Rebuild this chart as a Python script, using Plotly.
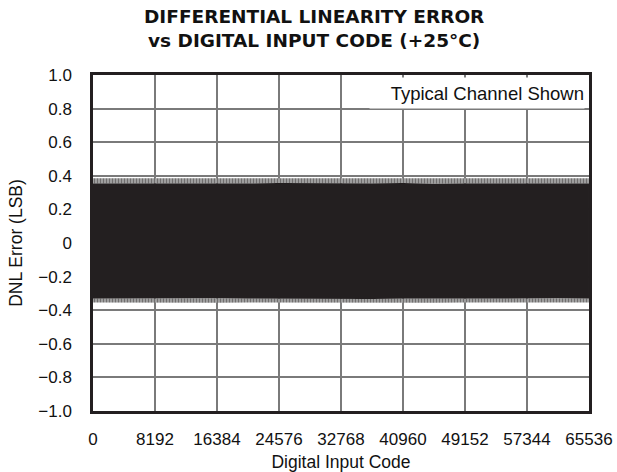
import plotly.graph_objects as go

# Digital input code sample points along the DNL envelope
codes = [0, 4096, 8192, 12288, 16384, 20480, 24576, 28672, 32768,
         36864, 40960, 45056, 49152, 53248, 57344, 61440, 65535]
# Envelope of the DNL error band (LSB)
upper_peak = [0.385, 0.385, 0.386, 0.384, 0.386, 0.385, 0.386, 0.384, 0.385,
              0.386, 0.385, 0.384, 0.385, 0.386, 0.385, 0.384, 0.385]
upper_solid = [0.356, 0.355, 0.357, 0.354, 0.356, 0.355, 0.357, 0.355, 0.356,
               0.355, 0.357, 0.354, 0.356, 0.355, 0.356, 0.355, 0.356]
lower_solid = [-0.332, -0.331, -0.333, -0.332, -0.331, -0.332, -0.333, -0.331, -0.332,
               -0.333, -0.332, -0.331, -0.332, -0.333, -0.332, -0.331, -0.332]
lower_peak = [-0.354, -0.355, -0.354, -0.356, -0.355, -0.354, -0.355, -0.356, -0.355,
              -0.354, -0.355, -0.356, -0.354, -0.355, -0.356, -0.355, -0.354]

x_ticks = [0, 8192, 16384, 24576, 32768, 40960, 49152, 57344, 65536]
x_ticktext = ["0", "8192", "16384", "24576", "32768", "40960", "49152", "57344", "65536"]
y_ticks = [1.0, 0.8, 0.6, 0.4, 0.2, 0.0, -0.2, -0.4, -0.6, -0.8, -1.0]
y_ticktext = ["1.0", "0.8", "0.6", "0.4", "0.2", "0", "\u22120.2", "\u22120.4", "\u22120.6", "\u22120.8", "\u22121.0"]
title_lines = ["DIFFERENTIAL LINEARITY ERROR", "vs DIGITAL INPUT CODE (+25°C)"]

INK = "#231f20"
FONT = "Liberation Sans, Arial, Helvetica, sans-serif"

fig = go.Figure()
nol = dict(width=0)
# solid core band
fig.add_trace(go.Scatter(x=codes, y=lower_solid, mode="lines", line=nol, hoverinfo="skip"))
fig.add_trace(go.Scatter(x=codes, y=upper_solid, mode="lines", line=nol, fill="tonexty",
                         fillcolor=INK, hoverinfo="skip"))
# upper fringe
fig.add_trace(go.Scatter(x=codes, y=upper_solid, mode="lines", line=nol, hoverinfo="skip"))
fig.add_trace(go.Scatter(x=codes, y=upper_peak, mode="lines", line=nol, fill="tonexty",
                         fillcolor="rgba(255,255,255,0)",
                         fillpattern=dict(shape="|", fgcolor=INK, bgcolor="#bdbdbd", size=3, solidity=0.6),
                         hoverinfo="skip"))
# lower fringe
fig.add_trace(go.Scatter(x=codes, y=lower_peak, mode="lines", line=nol, hoverinfo="skip"))
fig.add_trace(go.Scatter(x=codes, y=lower_solid, mode="lines", line=nol, fill="tonexty",
                         fillcolor="rgba(255,255,255,0)",
                         fillpattern=dict(shape="|", fgcolor=INK, bgcolor="#bdbdbd", size=3, solidity=0.6),
                         hoverinfo="skip"))

annotations = [
    dict(text="Typical Channel Shown", xref="paper", yref="paper",
         x=1, y=1, xanchor="right", yanchor="top", xshift=-4, yshift=-2,
         showarrow=False, bgcolor="white", width=214, height=30, align="right",
         valign="middle", borderpad=0,
         font=dict(family=FONT, size=18.5, color="#111111")),
    dict(text="<br>".join(title_lines), xref="paper", yref="paper", x=0.446, y=1.1397,
         xanchor="center", yanchor="middle", showarrow=False, align="center",
         font=dict(family="DejaVu Sans, sans-serif", size=18.5, color="#111111", weight="bold")),
]

fig.update_layout(
    width=617, height=472,
    margin=dict(l=92.5, r=28, t=75, b=60.5),
    paper_bgcolor="white", plot_bgcolor="white",
    showlegend=False,
    font=dict(family=FONT, color="#111111", size=17),
    xaxis=dict(range=[0, 65536], tickvals=x_ticks, ticktext=x_ticktext, automargin=False,
               showgrid=True, gridcolor="#7a7a7a", gridwidth=1.5,
               zeroline=False, showline=True, linecolor=INK, linewidth=2.5, mirror=True,
               ticks="", ticklabelstandoff=11, tickfont=dict(size=17),
               title=dict(text="Digital Input Code", font=dict(size=17.5), standoff=8)),
    yaxis=dict(range=[-1, 1], tickvals=y_ticks, ticktext=y_ticktext, automargin=False,
               showgrid=True, gridcolor="#7a7a7a", gridwidth=1.5,
               zeroline=False, showline=True, linecolor=INK, linewidth=2.5, mirror=True,
               ticks="", ticklabelstandoff=15, tickfont=dict(size=17),
               title=dict(text="DNL Error (LSB)", font=dict(size=17.5), standoff=12)),
    annotations=annotations,
)

fig.write_html("out.html", config={"displayModeBar": False},
               post_script="document.body.style.margin='0';document.body.style.overflow='hidden';")
